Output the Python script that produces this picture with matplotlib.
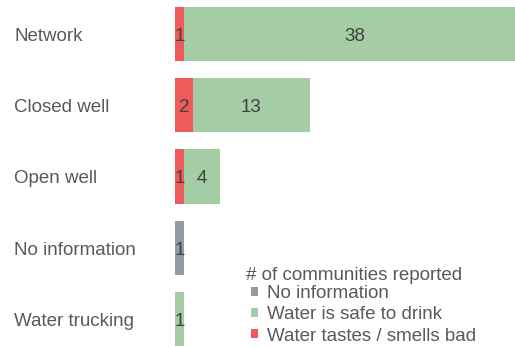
import matplotlib
matplotlib.use("Agg")
import matplotlib.pyplot as plt
from matplotlib.patches import Patch
import numpy as np

plt.rcParams["font.family"] = ["Liberation Sans", "DejaVu Sans"]

categories = ["Network", "Closed well", "Open well", "No information", "Water trucking"]
no_info = [0, 0, 0, 1, 0]
safe = [38, 13, 4, 0, 1]
bad = [1, 2, 1, 0, 0]

series_names = ["No information", "Water is safe to drink", "Water tastes / smells bad"]
colors = {"No information": "#919ba6",
          "Water is safe to drink": "#a5cda5",
          "Water tastes / smells bad": "#ef5a5b"}
legend_title = "# of communities reported"

W, H, DPI = 515, 347, 100
fig = plt.figure(figsize=(W / DPI, H / DPI), dpi=DPI)
ax = fig.add_axes([175 / W, 0, 340 / W, 1])

y = np.arange(len(categories))
bar_h = 0.76
fs = 13.5
val_color = "#404040"
lbl_color = "#595959"
row_px = 71.25
base_off = 6.9 / row_px   # shift from bar centre to text baseline

left = np.zeros(len(categories))
for name, vals in [("Water tastes / smells bad", bad),
                   ("Water is safe to drink", safe),
                   ("No information", no_info)]:
    vals = np.array(vals, dtype=float)
    ax.barh(y, vals, left=left, height=bar_h, color=colors[name], linewidth=0)
    for yi, l0, v in zip(y, left, vals):
        if v > 0:
            ax.text(l0 + v / 2, yi + base_off, str(int(v)), ha="center", va="baseline",
                    fontsize=fs, color=val_color)
    left += vals

ax.set_xlim(0, 340 / 9)
ax.set_ylim((H - 34) / row_px, -34 / row_px)
ax.axis("off")

for yi, cat in zip(y, categories):
    ax.text(-161 / 9, yi + base_off, cat, ha="left", va="baseline", fontsize=fs,
            color=lbl_color, clip_on=False)

fig.text(246 / W, 1 - 273 / H, legend_title, ha="left", va="center_baseline",
         fontsize=fs, color=lbl_color)

handles = [Patch(facecolor=colors[n], edgecolor="none") for n in series_names]
leg = fig.legend(handles, series_names, loc="upper left",
                 bbox_to_anchor=(251 / W, 1 - 285 / H), frameon=False,
                 fontsize=fs, handlelength=0.37, handleheight=0.37, handletextpad=0.5,
                 labelspacing=0.23, borderpad=0, borderaxespad=0)
for t in leg.get_texts():
    t.set_color(lbl_color)

fig.savefig("out.png", dpi=DPI)
